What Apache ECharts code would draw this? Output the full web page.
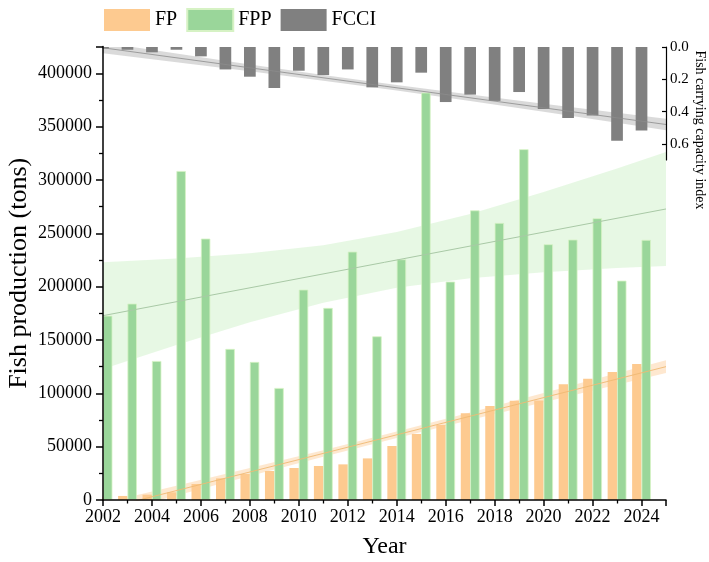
<!DOCTYPE html>
<html>
<head>
<meta charset="utf-8">
<script src="https://cdn.jsdelivr.net/npm/echarts@6/dist/echarts.min.js"></script>
<style>html,body{margin:0;padding:0;background:#fff}#c{width:709px;height:562px}</style>
</head>
<body>
<div id="c"></div>
<script>
const years = [2002,2003,2004,2005,2006,2007,2008,2009,2010,2011,2012,2013,2014,2015,2016,2017,2018,2019,2020,2021,2022,2023,2024];
const fp = [3000,3800,5000,7200,15000,20300,24400,27200,30000,31900,33400,39000,50600,61900,70300,81300,88100,93100,93200,108400,113700,120000,127500];
const fpp = [172800,184100,130300,308400,245000,141600,129400,105000,197200,180000,232800,153400,225600,381900,204700,271500,259700,328800,239700,244100,264100,205600,243800];
const fcci = [0.010,0.017,0.033,0.017,0.058,0.139,0.184,0.254,0.147,0.174,0.139,0.250,0.219,0.159,0.341,0.295,0.334,0.279,0.384,0.440,0.425,0.580,0.518];

const trendYears = [2002, 2025];
const fppTrend = [172800, 272800];
const fpTrend = [-8600, 125000];
const fcciTrend = [0.005, 0.480];

const bandYears = [2002,2005,2008,2011,2014,2017,2020,2023,2025];
const fppBandLow = [122800,145400,166600,184900,198900,207900,213600,217400,219400];
const fppBandHigh = [222800,226300,231200,238900,251100,268100,288600,310800,326200];
const fpBandLow = [-14300,4200,22600,40600,58200,75100,91700,108100,119000];
const fpBandHigh = [-2900,13400,29900,46700,64100,82000,100200,118700,131000];
const fcciBandLow = [-0.028,0.041,0.108,0.173,0.236,0.295,0.352,0.408,0.445];
const fcciBandHigh = [0.038,0.094,0.150,0.209,0.270,0.335,0.401,0.469,0.515];

const FONT = 'Liberation Serif';
const chart = echarts.init(document.getElementById('c'));

// clip a polygon to the plotting rectangle (Sutherland-Hodgman)
function clipPoly(pts, r) {
  const edges = [
    p => p[0] >= r.x, p => p[0] <= r.x + r.width,
    p => p[1] >= r.y, p => p[1] <= r.y + r.height
  ];
  const inter = [
    (a, b) => { const t = (r.x - a[0]) / (b[0] - a[0]); return [r.x, a[1] + t * (b[1] - a[1])]; },
    (a, b) => { const X = r.x + r.width; const t = (X - a[0]) / (b[0] - a[0]); return [X, a[1] + t * (b[1] - a[1])]; },
    (a, b) => { const t = (r.y - a[1]) / (b[1] - a[1]); return [a[0] + t * (b[0] - a[0]), r.y]; },
    (a, b) => { const Y = r.y + r.height; const t = (Y - a[1]) / (b[1] - a[1]); return [a[0] + t * (b[0] - a[0]), Y]; }
  ];
  let out = pts;
  for (let e = 0; e < 4; e++) {
    const inp = out; out = [];
    for (let i = 0; i < inp.length; i++) {
      const cur = inp[i], prev = inp[(i + inp.length - 1) % inp.length];
      const cIn = edges[e](cur), pIn = edges[e](prev);
      if (cIn) { if (!pIn) out.push(inter[e](prev, cur)); out.push(cur); }
      else if (pIn) out.push(inter[e](prev, cur));
    }
  }
  return out;
}

function band(xs, lo, hi, fill) {
  return function (params, api) {
    if (params.dataIndex !== 0) return;
    const pts = [];
    for (let i = 0; i < xs.length; i++) pts.push(api.coord([xs[i], hi[i]]));
    for (let i = xs.length - 1; i >= 0; i--) pts.push(api.coord([xs[i], lo[i]]));
    const cs = params.coordSys;
    return { type: 'polygon', shape: { points: clipPoly(pts, cs) }, style: { fill: fill } };
  };
}
const pairs = (xs, ys) => xs.map((x, i) => [x, ys[i]]);
const blk = { color: '#000', width: 1.5 };

chart.setOption({
  animation: false,
  backgroundColor: '#fff',
  legend: {
    data: ['FP', 'FPP', 'FCCI'],
    top: 3, left: 99,
    icon: 'rect', itemWidth: 46, itemHeight: 22, itemGap: 9,
    textStyle: { fontFamily: FONT, fontSize: 20, color: '#000' }
  },
  grid: [
    { left: 103, right: 43, top: 46.6, bottom: 62, outerBoundsMode: 'none', containLabel: false },
    { left: 103, right: 43, top: 47, height: 113, outerBoundsMode: 'none', containLabel: false }
  ],
  graphic: [
    { type: 'rect', z: 5, silent: true, shape: { x: 86, y: 38, width: 16.4, height: 463 }, style: { fill: '#fff' } }
  ],
  xAxis: [
    {
      type: 'value', gridIndex: 0, min: 2002, max: 2025, interval: 2, z: 10,
      axisLine: { show: true, onZero: false, lineStyle: blk },
      axisTick: { show: true, length: 6, lineStyle: blk },
      minorTick: { show: true, splitNumber: 2, length: 3.5, lineStyle: { color: '#000', width: 1.3 } },
      splitLine: { show: false },
      axisLabel: { showMaxLabel: false, fontFamily: FONT, fontSize: 18, color: '#000', margin: 8, formatter: v => String(v) },
      name: 'Year', nameLocation: 'middle', nameGap: 35, nameMoveOverlap: false,
      nameTextStyle: { fontFamily: FONT, fontSize: 24, color: '#000' }
    },
    { type: 'value', gridIndex: 1, min: 2002, max: 2025, show: false }
  ],
  yAxis: [
    {
      type: 'value', gridIndex: 0, min: 0, max: 425000, interval: 50000, z: 10,
      axisLine: { show: true, lineStyle: blk },
      axisTick: { show: true, length: 7, lineStyle: blk },
      minorTick: { show: true, splitNumber: 2, length: 4, lineStyle: { color: '#000', width: 1.3 } },
      splitLine: { show: false },
      axisLabel: { showMaxLabel: false, fontFamily: FONT, fontSize: 18, color: '#000', margin: 11, formatter: v => String(v) },
      name: 'Fish production (tons)', nameLocation: 'middle', nameGap: 71, nameMoveOverlap: false,
      nameTextStyle: { fontFamily: FONT, fontSize: 26, color: '#000' }
    },
    {
      type: 'value', gridIndex: 1, position: 'right', inverse: true, min: 0, max: 0.7, interval: 0.2, z: 10,
      axisLine: { show: true, lineStyle: { color: '#000', width: 1.2 } },
      axisTick: { show: true, inside: true, length: 4, lineStyle: { color: '#000', width: 1.2 } },
      splitLine: { show: false },
      axisLabel: { showMaxLabel: false, fontFamily: FONT, fontSize: 15, color: '#000', margin: 4, formatter: v => v.toFixed(1) },
      name: 'Fish carrying capacity index', nameLocation: 'middle', nameRotate: -90, nameGap: 27,
      nameMoveOverlap: false,
      nameTextStyle: { fontFamily: FONT, fontSize: 14, color: '#000', padding: [0, 0, 0, 53] }
    }
  ],
  series: [
    {
      name: 'FP', type: 'bar', xAxisIndex: 0, yAxisIndex: 0, barWidth: 9.4, barGap: '0%',
      itemStyle: { color: '#FDCA90' }, data: pairs(years, fp)
    },
    {
      name: 'FPP', type: 'bar', xAxisIndex: 0, yAxisIndex: 0, barWidth: 9.4, barGap: '0%',
      itemStyle: { color: '#9AD69A', borderColor: '#D6F2C4', borderWidth: 0.8 }, data: pairs(years, fpp)
    },
    {
      name: 'FCCI', type: 'bar', xAxisIndex: 1, yAxisIndex: 1, barWidth: 11.7,
      itemStyle: { color: '#808080' }, data: pairs(years, fcci)
    },
    {
      type: 'custom', xAxisIndex: 0, yAxisIndex: 0, silent: true,
      renderItem: band(bandYears, fppBandLow, fppBandHigh, 'rgba(176,232,166,0.3)'), data: [[2002, 0]]
    },
    {
      type: 'line', xAxisIndex: 0, yAxisIndex: 0, symbol: 'none', silent: true,
      lineStyle: { color: '#a9c9a6', width: 1 }, data: pairs(trendYears, fppTrend)
    },
    {
      type: 'custom', xAxisIndex: 0, yAxisIndex: 0, silent: true,
      renderItem: band(bandYears, fpBandLow, fpBandHigh, 'rgba(253,205,150,0.45)'), data: [[2002, 0]]
    },
    {
      type: 'line', xAxisIndex: 0, yAxisIndex: 0, symbol: 'none', silent: true,
      lineStyle: { color: 'rgba(240,185,115,0.9)', width: 1 }, data: pairs(trendYears, fpTrend)
    },
    {
      type: 'custom', xAxisIndex: 1, yAxisIndex: 1, silent: true,
      renderItem: band(bandYears, fcciBandLow, fcciBandHigh, 'rgba(150,150,150,0.35)'), data: [[2002, 0]]
    },
    {
      type: 'line', xAxisIndex: 1, yAxisIndex: 1, symbol: 'none', silent: true,
      lineStyle: { color: '#8c8c8c', width: 0.8 }, data: pairs(trendYears, fcciTrend)
    }
  ]
});
</script>
</body>
</html>
